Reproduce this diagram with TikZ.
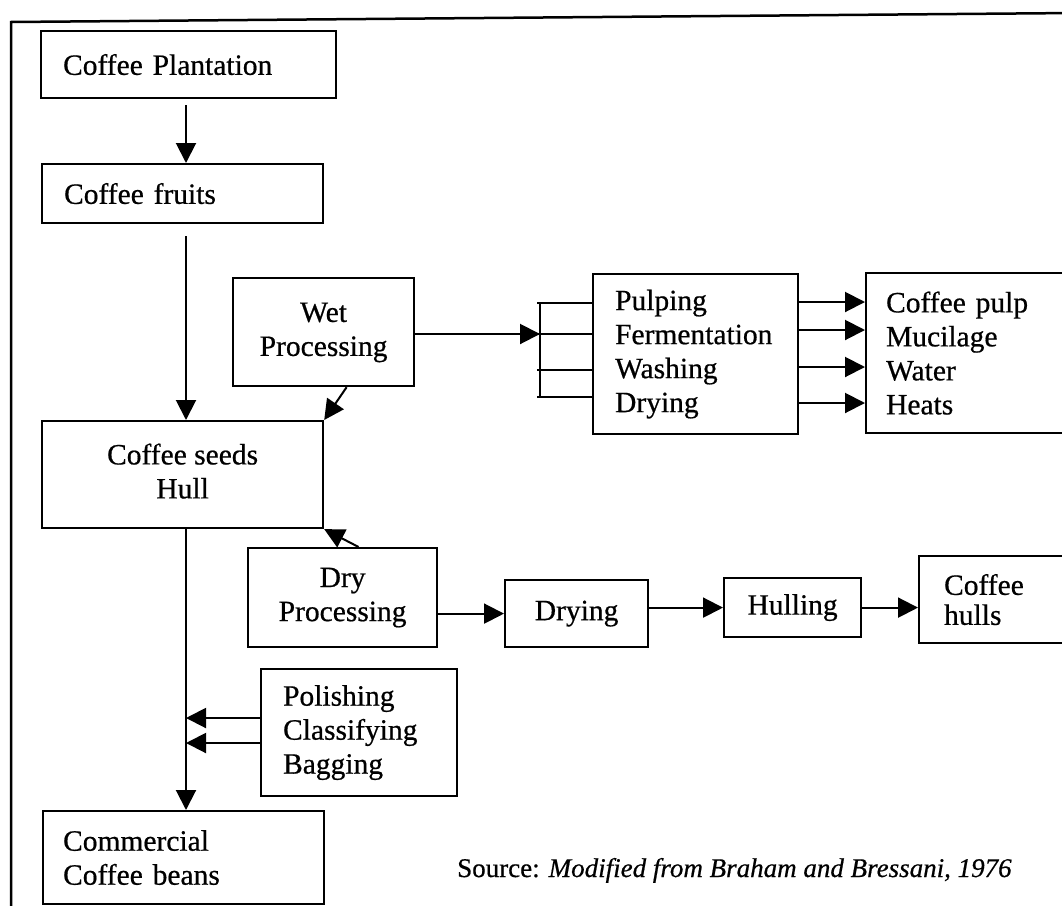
\documentclass[tikz,border=0pt]{standalone}
\usepackage{fontspec}
\setmainfont{Liberation Serif}[FakeBold=0.6]
\usetikzlibrary{arrows.meta}
\newcommand{\liftlines}[2]{\raisebox{#1}{\begin{tabular}{@{}c@{}}#2\end{tabular}}}
\begin{document}
\begin{tikzpicture}[x=1pt,y=-1pt,
  box/.style={draw, line width=2.2pt, inner sep=0pt, anchor=north west, font=\fontsize{29.5}{34}\selectfont},
  lbox/.style={box, align=left, inner xsep=22pt},
  cbox/.style={box, align=center},
  arr/.style={line width=2pt, -{Triangle[length=20pt,width=20pt]}},
  ln/.style={line width=2pt}]
\useasboundingbox (0,0) rectangle (1062,905);
\clip (0,0) rectangle (1062,905);
% outer frame
\draw[line width=2.5pt] (11,915) -- (11,22) -- (1075,13);
% boxes
\node[lbox, text width=251pt, minimum height=67pt] (plant) at (40,30) {Coffee Plantation};
\node[lbox, text width=237pt, minimum height=59pt] (fruits) at (41,163) {Coffee fruits};
\node[cbox, minimum width=281pt, minimum height=107pt] (seeds) at (41,420) {\liftlines{8pt}{Coffee seeds\\Hull}};
\node[cbox, minimum width=181pt, minimum height=108pt] (wet) at (232,277) {\liftlines{5pt}{Wet\\Processing}};
\node[lbox, text width=161pt, minimum height=160pt] (pulp) at (592,273) {Pulping\\Fermentation\\Washing\\Drying};
\node[lbox, inner xsep=20pt, text width=180pt, minimum height=160pt] (outp) at (865,272) {Coffee pulp\\Mucilage\\Water\\Heats};
\node[cbox, minimum width=189pt, minimum height=99pt] (dry) at (247,547) {Dry\\Processing};
\node[cbox, minimum width=143pt, minimum height=67pt] (drying) at (504,579) {Drying};
\node[cbox, minimum width=137pt, minimum height=59pt] (hulling) at (723,577) {Hulling};
\node[lbox, inner xsep=25pt, text width=150pt, minimum height=87pt, font=\fontsize{29.5}{30}\selectfont] (hulls) at (918,555) {Coffee\\hulls};
\node[lbox, text width=152pt, minimum height=127pt] (polish) at (260,668) {Polishing\\Classifying\\Bagging};
\node[lbox, inner xsep=20pt, text width=241pt, minimum height=93pt] (comm) at (42,810) {Commercial\\Coffee beans};
\node[anchor=base west, inner sep=0pt, font=\fontsize{27}{30}\selectfont] (src) at (457,877) {Source: \textit{Modified from Braham and Bressani, 1976}};
% helper coordinates
\coordinate (spine) at (186,0);
\coordinate (b1) at (540,303);
\coordinate (b2) at (540,334);
\coordinate (b3) at (540,370);
\coordinate (b4) at (540,397);
\foreach \i/\y in {1/302,2/330,3/367,4/403} \coordinate (o\i) at (800,\y);
\coordinate (p1) at (260,718);
\coordinate (p2) at (260,743);
% main spine
\draw[arr, shorten <=6pt] (plant.south -| spine) -- (fruits.north -| spine);
\draw[arr, shorten <=12pt] (fruits.south -| spine) -- (seeds.north -| spine);
\draw[arr] (seeds.south -| spine) -- (comm.north -| spine);
% side processes into seeds
\draw[arr] ([xshift=23pt]wet.south) -- (seeds.north east);
\draw[arr] ([xshift=16pt]dry.north) -- (seeds.south east);
% wet processing branch
\draw[arr] (wet.east |- b2) -- (b2);
\draw[ln] (b1) -- (b4);
\foreach \b in {b1,b2,b3,b4} \draw[ln] ([xshift=-3pt]\b) -- (\b -| pulp.west);
\foreach \i in {1,2,3,4} \draw[arr] (pulp.east |- o\i) -- (outp.west |- o\i);
% dry processing branch
\draw[arr] (dry.east |- drying.west) -- (drying.west);
\draw[arr] (drying.east |- hulling.west) -- (hulling.west);
\draw[arr] (hulling.east) -- (hulling.east -| hulls.west);
% polishing
\draw[arr] (polish.west |- p1) -- (spine |- p1);
\draw[arr] (polish.west |- p2) -- (spine |- p2);
\end{tikzpicture}
\end{document}
